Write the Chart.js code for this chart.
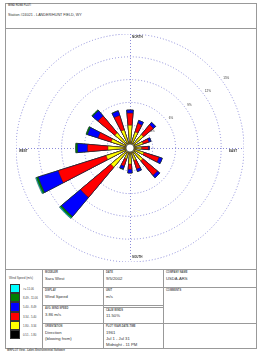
<!DOCTYPE html>
<html>
<head>
<meta charset="utf-8">
<title>Wind Rose Plot</title>
<script src="https://cdn.jsdelivr.net/npm/chart.js@4.4.1/dist/chart.umd.min.js"></script>
<style>
  html, body { margin: 0; padding: 0; background: #fff; }
  body { width: 260px; height: 357px; position: relative; overflow: hidden;
         font-family: "Liberation Sans", Arial, sans-serif; color: #333; }
  #frame { position: absolute; left: 5px; top: 3px; width: 252px; height: 346px;
           border: 1px solid #999; box-sizing: border-box; }
  .hl { position: absolute; height: 0; border-top: 1px solid #999; }
  .vl { position: absolute; width: 0; border-left: 1px solid #999; }
  .cap { position: absolute; font-size: 2.6px; font-weight: bold; color: #555; white-space: nowrap; }
  .val { position: absolute; font-size: 4.2px; line-height: 6px; color: #333; white-space: nowrap; }
  .sw { position: absolute; left: 10px; width: 10px; height: 9.2px; box-sizing: border-box; border: 0.5px solid #333; }
  .swl { position: absolute; left: 23px; font-size: 2.8px; color: #444; white-space: nowrap; }
  #rose { position: absolute; left: 16px; top: 34px; }
</style>
</head>
<body>
<div id="frame"></div>
<div class="cap" style="left:8px;top:4px">WIND ROSE PLOT:</div>
<div class="val" style="left:8px;top:12px;font-size:3.7px">Station #24021 - LANDER/HUNT FIELD, WY</div>
<div class="hl" style="left:5px;top:28px;width:251px"></div>

<canvas id="rose" width="228" height="228"></canvas>

<!-- info table -->
<div class="hl" style="left:5px;top:269px;width:251px"></div>
<div class="vl" style="left:42px;top:269px;height:79px"></div>
<div class="vl" style="left:103px;top:269px;height:79px"></div>
<div class="vl" style="left:163px;top:269px;height:79px"></div>
<div class="hl" style="left:42px;top:287px;width:214px"></div>
<div class="hl" style="left:42px;top:305px;width:121px"></div>
<div class="hl" style="left:103px;top:307px;width:60px"></div>
<div class="hl" style="left:42px;top:323px;width:214px"></div>

<div class="swl" style="left:9px;top:276px;font-size:3px">Wind Speed (m/s)</div>
<div id="legend"></div>

<div class="cap" style="left:45px;top:271px">MODELER</div>
<div class="val" style="left:45px;top:276px">Sara West</div>
<div class="cap" style="left:106px;top:271px">DATE</div>
<div class="val" style="left:106px;top:276px">9/5/2002</div>
<div class="cap" style="left:166px;top:271px">COMPANY NAME</div>
<div class="val" style="left:166px;top:276px">USDA-ARS</div>

<div class="cap" style="left:45px;top:289px">DISPLAY</div>
<div class="val" style="left:45px;top:294px">Wind Speed</div>
<div class="cap" style="left:106px;top:289px">UNIT</div>
<div class="val" style="left:106px;top:294px">m/s</div>
<div class="cap" style="left:166px;top:289px">COMMENTS</div>

<div class="cap" style="left:45px;top:307px">AVG. WIND SPEED</div>
<div class="val" style="left:45px;top:312px">3.86 m/s</div>
<div class="cap" style="left:106px;top:309px">CALM WINDS</div>
<div class="val" style="left:106px;top:313px">11.50%</div>

<div class="cap" style="left:45px;top:325px">ORIENTATION</div>
<div class="val" style="left:45px;top:326px;padding-top:4px">Direction<br>(blowing from)</div>
<div class="cap" style="left:106px;top:325px">PLOT YEAR-DATE-TIME</div>
<div class="val" style="left:106px;top:326px;padding-top:4px">1961<br>Jul 1 - Jul 31<br>Midnight - 11 PM</div>

<div class="cap" style="left:7px;top:349px">WRPLOT View - Lakes Environmental Software</div>

<script>
const directions = ['N', 'NNE', 'NE', 'ENE', 'E', 'ESE', 'SE', 'SSE',
                    'S', 'SSW', 'SW', 'WSW', 'W', 'WNW', 'NW', 'NNW'];
const speedBins = ['0.51 - 1.80', '1.80 - 3.34', '3.34 - 5.40', '5.40 - 8.49', '8.49 - 11.06', '>= 11.06'];
const binColors = ['#000000', '#ffff00', '#ff0000', '#0000ff', '#008000', '#00ffff'];

// frequency (% of hours) per direction, one array per speed bin
const pct051to180  = [0.5, 0.5, 0.5, 0.5, 0.5, 0.5, 0.5, 0.5, 0.5, 0.5, 0.5, 0.5, 0.5, 0.5, 0.5, 0.5];
const pct180to334  = [2.5, 1.7, 1.8, 1.3, 1.0, 1.4, 1.7, 1.2, 1.6, 1.0, 2.8, 2.8, 2.4, 2.1, 2.1, 2.0];
const pct334to540  = [1.6, 1.2, 1.7, 0.8, 0.9, 2.1, 2.5, 1.2, 0.7, 1.0, 5.2, 6.6, 2.7, 1.8, 2.9, 2.0];
const pct540to849  = [0.4, 0.4, 0.4, 0.3, 0.15, 0.45, 0.4, 0.35, 0.5, 0.4, 3.25, 2.75, 1.3, 1.45, 0.9, 0.6];
const pct849to1106 = [0, 0, 0, 0, 0, 0, 0, 0, 0, 0.05, 0.25, 0.25, 0.25, 0.2, 0.15, 0.05];
const pctOver1106  = [0, 0, 0, 0, 0, 0, 0, 0, 0, 0, 0.12, 0.12, 0, 0, 0, 0];

const ringTicks = [3, 6, 9, 12, 15];

// legend swatches (top = strongest wind)
const legendBox = document.getElementById('legend');
speedBins.slice().reverse().forEach((txt, i) => {
    const k = speedBins.length - 1 - i;
    const top = 284 + i * 9.2;
    legendBox.insertAdjacentHTML('beforeend',
        '<div class="sw" style="top:' + top + 'px;background:' + binColors[k] + '"></div>' +
        '<div class="swl" style="top:' + (top + 3) + 'px">' + txt + '</div>');
});

// stacked petals: each bin drawn as the running total, smaller totals on top
const bins = [pct051to180, pct180to334, pct334to540, pct540to849, pct849to1106, pctOver1106];
const running = directions.map(() => 0);
const datasets = bins.map((bin, k) => {
    const cum = bin.map((v, i) => (running[i] += v));
    return {
        label: speedBins[k],
        data: cum.flatMap(v => [+v.toFixed(3), 0]),
        backgroundColor: binColors[k],
        borderColor: '#222',
        borderWidth: ctx => ctx.dataIndex % 2 ? 0 : 0.5,
        angle: ctx => ctx.dataIndex % 2 ? 12.5 : 10
    };
});

const roseDecor = {
    id: 'roseDecor',
    beforeDatasetsDraw(chart) {
        const s = chart.scales.r, ctx = chart.ctx;
        const R = s.drawingArea, cx = s.xCenter, cy = s.yCenter;
        ctx.save();
        ctx.strokeStyle = '#8b8bd9';
        ctx.lineWidth = 1;
        ctx.setLineDash([1, 2]);
        ctx.beginPath();
        ctx.moveTo(cx - R, cy + 0.5); ctx.lineTo(cx + R, cy + 0.5);
        ctx.moveTo(cx + 0.5, cy - R); ctx.lineTo(cx + 0.5, cy + R);
        ctx.stroke();

        ctx.fillStyle = '#333';
        ctx.font = '3px "Liberation Sans", Arial';
        ctx.textAlign = 'center';
        ctx.textBaseline = 'middle';
        const a = 54 * Math.PI / 180;
        ringTicks.forEach(t => {
            const d = s.getDistanceFromCenterForValue(t) + 5;
            ctx.fillText(t + '%', cx + Math.sin(a) * d, cy - Math.cos(a) * d);
        });

        ctx.font = 'bold 3px "Liberation Sans", Arial';
        ctx.textAlign = 'left';
        ctx.textBaseline = 'top';
        ctx.fillText('NORTH', cx + 2, cy - R + 2);
        ctx.fillText('WEST', cx - R + 3, cy + 2);
        ctx.textAlign = 'right';
        ctx.fillText('EAST', cx + R - 7, cy + 2);
        ctx.textAlign = 'left';
        ctx.textBaseline = 'bottom';
        ctx.fillText('SOUTH', cx + 2, cy + R - 3);
        ctx.restore();
    },
    afterDatasetsDraw(chart) {
        const s = chart.scales.r, ctx = chart.ctx;
        ctx.save();
        ctx.beginPath();
        ctx.arc(s.xCenter, s.yCenter, 4, 0, Math.PI * 2);
        ctx.fillStyle = '#fff';
        ctx.fill();
        ctx.lineWidth = 0.8;
        ctx.strokeStyle = '#555';
        ctx.stroke();
        ctx.restore();
    }
};

new Chart(document.getElementById('rose'), {
    type: 'polarArea',
    data: {
        labels: directions.flatMap(d => [d, '']),
        datasets: datasets
    },
    plugins: [roseDecor],
    options: {
        responsive: false,
        animation: false,
        layout: { padding: 0 },
        plugins: {
            legend: { display: false },
            tooltip: { enabled: false }
        },
        scales: {
            r: {
                min: 0,
                max: 15,
                startAngle: -5,
                ticks: { display: false, stepSize: 3 },
                pointLabels: { display: false },
                angleLines: { display: false },
                grid: { circular: true, color: '#8b8bd9', lineWidth: 1 },
                border: { dash: [1, 2] }
            }
        }
    }
});
</script>
</body>
</html>
